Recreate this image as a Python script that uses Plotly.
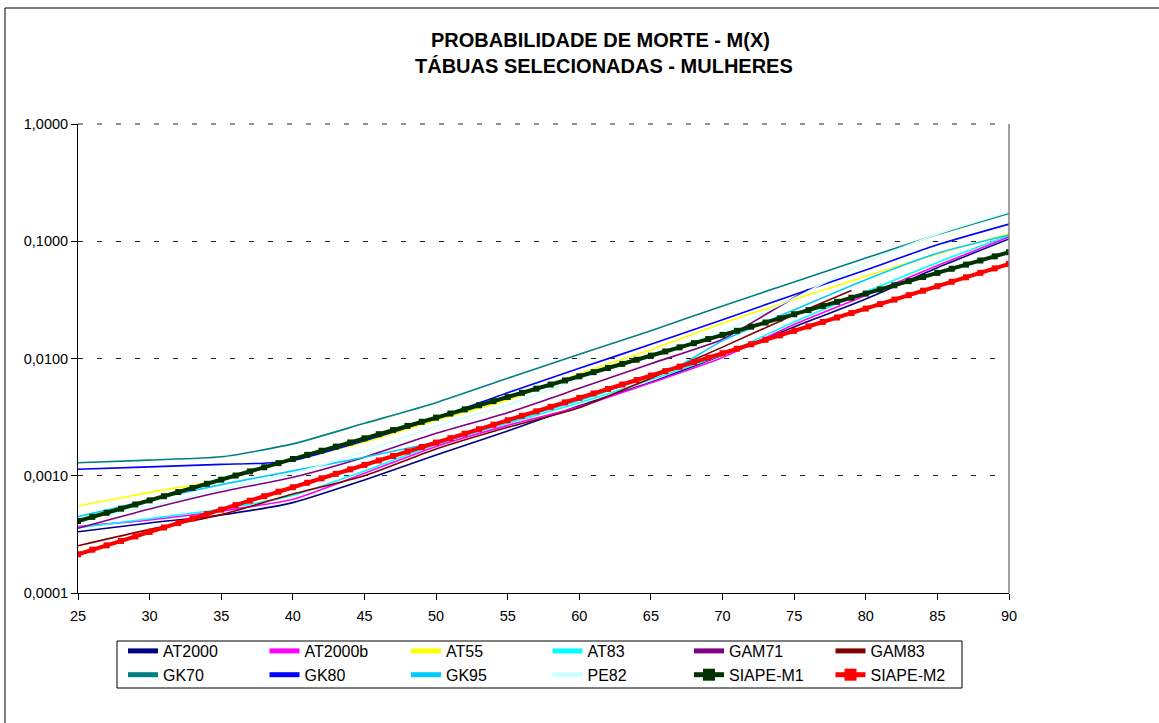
import plotly.graph_objects as go

# Idades (anos) usadas pelas tábuas com pontos a cada 5 anos
AGES_5 = [25, 30, 35, 40, 45, 50, 55, 60, 65, 70, 75, 80, 85, 90]

AT2000 = [0.000333, 0.000395, 0.000463, 0.00059, 0.00092, 0.0015, 0.00241,
          0.00396, 0.00627, 0.0107, 0.0186, 0.0322, 0.0595, 0.1045]
AT2000B = [0.000368, 0.00042, 0.0005, 0.00063, 0.00105, 0.00178, 0.00269,
           0.00388, 0.0062, 0.0102, 0.0195, 0.0345, 0.062, 0.109]
AT55 = [0.000552, 0.000722, 0.00092, 0.00136, 0.00193, 0.00297, 0.00442,
        0.00743, 0.0119, 0.0200, 0.0318, 0.0502, 0.078, 0.116]
AT83 = [0.00036, 0.00043, 0.00052, 0.00068, 0.0011, 0.00185, 0.0028,
        0.0042, 0.0066, 0.0108, 0.0205, 0.037, 0.066, 0.112]

GAM71_AGES = [25, 30, 35, 40, 45, 50, 55, 60, 65, 70, 73, 76]
GAM71 = [0.000356, 0.00052, 0.00073, 0.00097, 0.00144, 0.0023, 0.00345,
         0.00557, 0.00903, 0.0146, 0.0237, 0.039]

GAM83_AGES = [25, 30, 35, 40, 45, 50, 55, 60, 65, 70, 75, 79]
GAM83 = [0.000253, 0.000349, 0.000466, 0.000698, 0.00100, 0.00169, 0.00259,
         0.0038, 0.0068, 0.0125, 0.0236, 0.038]

GK70 = [0.00129, 0.00136, 0.00145, 0.00187, 0.0028, 0.0042, 0.00678,
        0.01086, 0.01726, 0.0281, 0.0449, 0.0719, 0.114, 0.173]

GK80_AGES = [25, 30, 35, 38, 40, 45, 50, 55, 60, 65, 70, 75, 80, 85, 90]
GK80 = [0.001135, 0.00119, 0.00125, 0.00128, 0.00135, 0.00199, 0.0031,
        0.00511, 0.00824, 0.0132, 0.0214, 0.035, 0.0569, 0.0932, 0.140]

GK95_AGES = [25, 30, 35, 40, 45, 50, 55, 60, 65, 67, 70, 75, 80, 85, 90]
GK95 = [0.000448, 0.00062, 0.00084, 0.0011, 0.00144, 0.00195, 0.0029,
        0.0044, 0.0071, 0.0087, 0.0142, 0.026, 0.047, 0.079, 0.113]

PE82 = [0.00042, 0.00055, 0.00077, 0.00105, 0.0016, 0.00264, 0.0040,
        0.00673, 0.0108, 0.0169, 0.0327, 0.066, 0.115, 0.177]

# Tábuas SIAPE: um valor por idade, de 25 a 90
AGES_1 = list(range(25, 91))
SIAPE_M1 = [
    0.000411, 0.000446, 0.000483, 0.000524, 0.000569, 0.000617, 0.000669,
    0.000726, 0.000787, 0.000854, 0.000926, 0.001004, 0.001089, 0.001181,
    0.001281, 0.001390, 0.001507, 0.001635, 0.001773, 0.001923, 0.002086,
    0.002262, 0.002454, 0.002661, 0.002886, 0.003131, 0.003395, 0.003683,
    0.003994, 0.004332, 0.004699, 0.005096, 0.005527, 0.005995, 0.006502,
    0.007052, 0.007649, 0.008296, 0.008998, 0.009759, 0.01058, 0.01148,
    0.01245, 0.01351, 0.01465, 0.01589, 0.01723, 0.01869, 0.02027, 0.02199,
    0.02385, 0.02587, 0.02805, 0.03043, 0.03300, 0.03579, 0.03882, 0.04211,
    0.04567, 0.04953, 0.05372, 0.05826, 0.06319, 0.06854, 0.07433, 0.08062,
]
SIAPE_M2 = [
    0.000214, 0.000234, 0.000255, 0.000278, 0.000304, 0.000332, 0.000362,
    0.000395, 0.000432, 0.000471, 0.000514, 0.000562, 0.000613, 0.000669,
    0.000731, 0.000798, 0.000871, 0.000951, 0.001038, 0.001133, 0.001237,
    0.001350, 0.001474, 0.001609, 0.001757, 0.001918, 0.002094, 0.002286,
    0.002495, 0.002724, 0.002974, 0.003247, 0.003544, 0.003869, 0.004224,
    0.004612, 0.005035, 0.005496, 0.006000, 0.006550, 0.007151, 0.007807,
    0.008523, 0.009304, 0.01016, 0.01109, 0.01211, 0.01322, 0.01443, 0.01575,
    0.01720, 0.01877, 0.02049, 0.02237, 0.02442, 0.02666, 0.02911, 0.03178,
    0.03469, 0.03787, 0.04134, 0.04513, 0.04927, 0.05379, 0.05872, 0.06411,
]

X_TICKS = list(range(25, 91, 5))
Y_TICKS = [0.0001, 0.001, 0.01, 0.1, 1.0]
Y_TICK_TEXT = ["0,0001", "0,0010", "0,0100", "0,1000", "1,0000"]

TITLE_1 = "PROBABILIDADE DE MORTE - M(X)"
TITLE_2 = "TÁBUAS SELECIONADAS - MULHERES"

# Geometria da figura (pixels)
W, H = 1159, 723
L, R, T, B = 78, 1009, 124, 593


def px(x):
    return (x - L) / (R - L)


def py(y):
    return (B - y) / (B - T)


thin = [
    ("AT2000", AGES_5, AT2000, "#000080"),
    ("AT2000b", AGES_5, AT2000B, "#FF00FF"),
    ("AT55", AGES_5, AT55, "#FFFF00"),
    ("AT83", AGES_5, AT83, "#00FFFF"),
    ("GAM71", GAM71_AGES, GAM71, "#800080"),
    ("GAM83", GAM83_AGES, GAM83, "#800000"),
    ("GK70", AGES_5, GK70, "#008080"),
    ("GK80", GK80_AGES, GK80, "#0000FF"),
    ("GK95", GK95_AGES, GK95, "#00CCFF"),
    ("PE82", AGES_5, PE82, "#CCFFFF"),
]

fig = go.Figure()
for name, xs, ys, color in thin:
    fig.add_trace(go.Scatter(
        x=xs, y=ys, name=name, mode="lines",
        line=dict(color=color, width=1.6, shape="spline", smoothing=0.6),
    ))

for name, ys, color in [("SIAPE-M1", SIAPE_M1, "#003300"),
                        ("SIAPE-M2", SIAPE_M2, "#FF0000")]:
    fig.add_trace(go.Scatter(
        x=AGES_1, y=ys, name=name, mode="lines+markers",
        line=dict(color=color, width=4),
        marker=dict(symbol="square", size=6, color=color),
    ))

font = "Liberation Sans, Arial, sans-serif"

fig.update_layout(
    width=W, height=H,
    margin=dict(l=L, r=W - R, t=T, b=H - B, autoexpand=False),
    paper_bgcolor="white", plot_bgcolor="white",
    font=dict(family=font, size=14, color="black"),
    showlegend=True,
    xaxis=dict(
        range=[25, 90], tickvals=X_TICKS, ticktext=[str(v) for v in X_TICKS],
        showgrid=False, zeroline=False,
        showline=True, linecolor="black", linewidth=1,
        ticks="outside", ticklen=6, tickcolor="black",
        ticklabelstandoff=4,
        tickfont=dict(size=14.5),
    ),
    yaxis=dict(
        type="log", range=[-4, 0], tickvals=Y_TICKS, ticktext=Y_TICK_TEXT,
        showgrid=True, gridcolor="#222222", griddash="5px,14px", gridwidth=1,
        zeroline=False,
        showline=True, linecolor="black", linewidth=1,
        ticks="outside", ticklen=6, tickcolor="black",
        tickfont=dict(size=14.5),
    ),
    legend=dict(
        orientation="h", x=px(123), xanchor="left", y=py(634), yanchor="top",
        bgcolor="rgba(0,0,0,0)", borderwidth=0,
        entrywidth=96.5, entrywidthmode="pixels",
        font=dict(family=font, size=16, color="black"),
        tracegroupgap=0, itemsizing="constant",
    ),
    annotations=[
        dict(text=f"<b>{TITLE_1}</b>", xref="paper", yref="paper",
             x=px(600), y=py(40), xanchor="center", yanchor="middle",
             showarrow=False, font=dict(family=font, size=20, color="black")),
        dict(text=f"<b>{TITLE_2}</b>", xref="paper", yref="paper",
             x=px(604), y=py(66), xanchor="center", yanchor="middle",
             showarrow=False, font=dict(family=font, size=20, color="black")),
    ],
    shapes=[
        # linha tracejada no topo (1,0000)
        dict(type="line", xref="paper", yref="paper", x0=0, x1=1, y0=1, y1=1,
             line=dict(color="#222222", width=1, dash="5px,14px")),
        # borda direita da área de plotagem
        dict(type="line", xref="paper", yref="paper", x0=1, x1=1, y0=0, y1=1,
             line=dict(color="#808080", width=1.5)),
        # caixa da legenda
        dict(type="rect", xref="paper", yref="paper",
             x0=px(117), x1=px(962), y0=py(688), y1=py(641),
             line=dict(color="black", width=1), fillcolor="white"),
        # moldura externa do gráfico (lados esquerdo e superior)
        dict(type="line", xref="paper", yref="paper",
             x0=px(5), x1=px(W), y0=py(8), y1=py(8),
             line=dict(color="black", width=1)),
        dict(type="line", xref="paper", yref="paper",
             x0=px(5), x1=px(5), y0=py(8), y1=py(H),
             line=dict(color="black", width=1)),
    ],
)

fig.write_html("out.html")
